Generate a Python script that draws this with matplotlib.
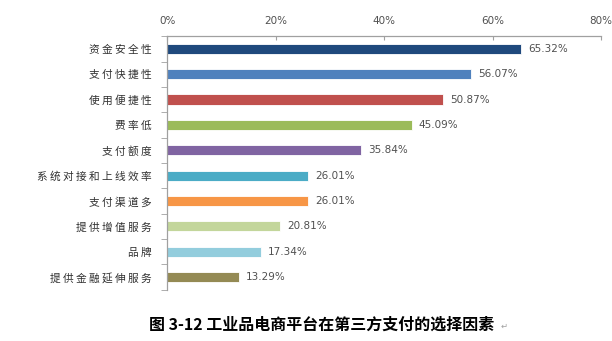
import matplotlib
matplotlib.use("Agg")
import matplotlib.pyplot as plt
from matplotlib.ticker import FixedLocator, NullFormatter

plt.rcParams['font.family'] = ['Noto Sans CJK SC', 'DejaVu Sans']

# 选择因素及占比（%）
factors = ["资金安全性", "支付快捷性", "使用便捷性", "费率低", "支付额度",
           "系统对接和上线效率", "支付渠道多", "提供增值服务", "品牌", "提供金融延伸服务"]
shares = [65.32, 56.07, 50.87, 45.09, 35.84, 26.01, 26.01, 20.81, 17.34, 13.29]
colors = ["#1F497D", "#4F81BD", "#C0504D", "#9BBB59", "#8064A2",
          "#4BACC6", "#F79646", "#C3D69B", "#93CDDD", "#948A54"]
xticks = [0, 20, 40, 60, 80]

fig = plt.figure(figsize=(6.12, 3.41), dpi=100)
ax = fig.add_axes([0.273, 0.150, 0.709, 0.744])

ypos = list(range(len(factors)))
ax.barh(ypos, shares, height=0.4, color=colors, edgecolor="white", linewidth=0.6)
for y, v in zip(ypos, shares):
    ax.text(v + 1.3, y, f"{v:.2f}%", va="center", ha="left",
            fontsize=7.5, color="#505050", family=["DejaVu Sans"])

ax.set_xlim(0, 80)
ax.set_ylim(len(factors) - 0.5, -0.5)

ax.xaxis.tick_top()
ax.set_xticks(xticks)
ax.set_xticklabels([f"{t}%" for t in xticks], fontsize=7.5, color="#505050",
                   family=["DejaVu Sans"])
ax.tick_params(axis="x", direction="in", length=3, color="#A0A0A0", pad=7)

# 类别标签字间稍宽
ax.set_yticks(ypos)
ax.set_yticklabels([" ".join(f) for f in factors], fontsize=7.7, color="#303030")
ax.tick_params(axis="y", which="major", length=0, pad=11)
ax.yaxis.set_minor_locator(FixedLocator([i - 0.5 for i in range(len(factors) + 1)]))
ax.yaxis.set_minor_formatter(NullFormatter())
ax.tick_params(axis="y", which="minor", length=4, color="#A0A0A0", direction="out")

for s in ["right", "bottom"]:
    ax.spines[s].set_visible(False)
for s in ["top", "left"]:
    ax.spines[s].set_color("#A0A0A0")
    ax.spines[s].set_linewidth(0.9)

fig.text(0.525, 0.047, "图 3-12 工业品电商平台在第三方支付的选择因素",
         ha="center", va="center", fontsize=11.5, fontweight="bold", color="black")
fig.text(0.818, 0.042, "↵", ha="left", va="center", fontsize=6, color="#A0A0A0",
         family=["DejaVu Sans"])

fig.savefig("out.png", dpi=100)
